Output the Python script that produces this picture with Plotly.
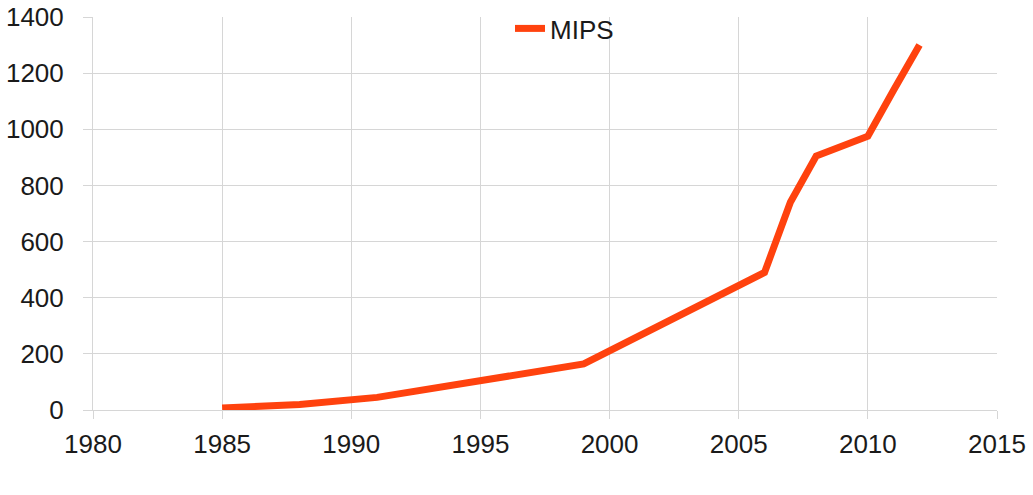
import plotly.graph_objects as go

years = [1985, 1988, 1991, 1995, 1999, 2006, 2007, 2008, 2009, 2010, 2011, 2012]
mips = [7, 20, 45, 103, 164, 490, 740, 905, 940, 975, 1140, 1300]

fig = go.Figure()
fig.add_trace(go.Scatter(x=years, y=mips, mode="lines", name="MIPS",
                         line=dict(color="#ff420e", width=7)))

grid = "#d6d6d6"
W, L, R, T, B = 1033, 93, 36, 17, 85
pw = W - L - R
ph = 495 - T - B
fig.update_layout(
    width=1033, height=495,
    margin=dict(l=L, r=R, t=T, b=B, autoexpand=False),
    paper_bgcolor="white", plot_bgcolor="white",
    font=dict(family="Liberation Sans, Arial, sans-serif", size=26, color="#1a1a1a"),
    showlegend=True,
    legend=dict(orientation="h", x=(510 - L) / pw, xanchor="left",
                y=1 + 12 / ph, yanchor="top",
                bgcolor="rgba(0,0,0,0)", font=dict(size=26)),
    xaxis=dict(range=[1980, 2015], tickvals=list(range(1980, 2016, 5)),
               showgrid=True, gridcolor=grid, gridwidth=1,
               showline=True, linecolor=grid, zeroline=False, automargin=False,
               ticks="outside", ticklen=8, tickcolor=grid, ticklabelstandoff=3,
               ticklabeloverflow="allow"),
    yaxis=dict(range=[0, 1400], tickvals=list(range(0, 1401, 200)),
               showgrid=True, gridcolor=grid, gridwidth=1,
               showline=True, linecolor=grid, zeroline=False, automargin=False,
               ticks="outside", ticklen=9, tickcolor=grid, ticklabelstandoff=14,
               ticklabeloverflow="allow"),
)
fig.write_html("out.html")
